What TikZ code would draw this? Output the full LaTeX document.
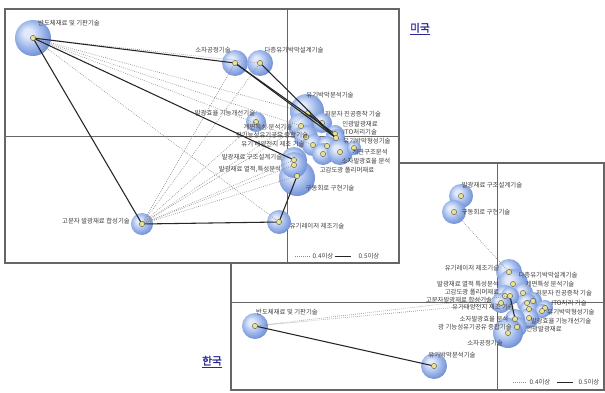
\documentclass[tikz,border=0pt]{standalone}
\usepackage{fontspec}
\newfontfamily\kr{Noto Sans CJK KR}
\newfontfamily\krbold[FakeBold=1.5]{Noto Sans CJK KR}
\definecolor{bubl}{RGB}{225,233,250}
\definecolor{bubc}{RGB}{160,185,235}
\definecolor{bube}{RGB}{115,145,215}
\definecolor{dotc}{RGB}{236,228,140}
\definecolor{navy}{RGB}{40,40,150}
\pgfdeclareradialshading{bubble}{\pgfpoint{-8bp}{8bp}}{color(0bp)=(bubl); color(6bp)=(bubl); color(18bp)=(bubc); color(28bp)=(bube); color(50bp)=(bube)}
\begin{document}
\begin{tikzpicture}[x=0.75pt, y=-0.75pt,
	bub/.style={circle, shading=bubble, inner sep=0pt, minimum size=#1*0.75pt},
	dot/.style={circle, fill=dotc, draw=black!70, line width=0.3pt, inner sep=0pt, minimum size=3.9pt},
	lab/.style={font=\kr\fontsize{4.8}{5}\selectfont, text=black!75, inner sep=0pt},
	ttl/.style={font=\krbold\fontsize{8}{9}\selectfont, text=navy, inner sep=0pt},
	strong/.style={black!85, line width=0.8pt},
	weak/.style={black!45, densely dotted, line width=0.5pt},
	panel/.style={draw=black!60, line width=0.9pt, fill=white},
	axis/.style={black!60, line width=0.5pt}]

\useasboundingbox (0,0) rectangle (605,392);

%% ---- 한국 (lower panel) ----
\draw[panel]	(231,163)	rectangle	(604,390);
\draw[axis]	(497,163)	--	(497,390);
\draw[axis]	(231,302)	--	(604,302);

\node 	(b-ksemi)	at	(255,326) 	[bub=26]{};
\node 	(b-kanal)	at	(434,366) 	[bub=26]{};
\node 	(b-kdesign)	at	(461,196) 	[bub=24]{};
\node 	(b-kdrive)	at	(454,212) 	[bub=24]{};
\node 	(b-klaser)	at	(509,272) 	[bub=26]{};
\node 	(b-kmulti)	at	(513,284) 	[bub=30]{};
\node 	(b-kintf)	at	(523,293) 	[bub=20]{};
\node 	(b-kvac)	at	(533,301) 	[bub=18]{};
\node 	(b-ksolar)	at	(527,303) 	[bub=20]{};
\node 	(b-kphos)	at	(529,309) 	[bub=18]{};
\node 	(b-kito)	at	(545,308) 	[bub=16]{};
\node 	(b-kform)	at	(542,311) 	[bub=14]{};
\node 	(b-kimp)	at	(529,318) 	[bub=20]{};
\node 	(b-kthermal)	at	(505,296) 	[bub=22]{};
\node 	(b-kpoly)	at	(510,296) 	[bub=18]{};
\node 	(b-kpolym)	at	(501,303) 	[bub=20]{};
\node 	(b-keff)	at	(515,319) 	[bub=20]{};
\node 	(b-kfunc)	at	(517,327) 	[bub=20]{};
\node 	(b-kdev)	at	(508,333) 	[bub=30]{};

\node 	(ksemi)		at	(b-ksemi) 	[dot]{};
\node 	(kanal)		at	(b-kanal) 	[dot]{};
\node 	(kdesign)	at	(b-kdesign) 	[dot]{};
\node 	(kdrive)	at	(b-kdrive) 	[dot]{};
\node 	(klaser)	at	(b-klaser) 	[dot]{};
\node 	(kmulti)	at	(b-kmulti) 	[dot]{};
\node 	(kintf)		at	(b-kintf) 	[dot]{};
\node 	(kvac)		at	(b-kvac) 	[dot]{};
\node 	(ksolar)	at	(b-ksolar) 	[dot]{};
\node 	(kphos)		at	(b-kphos) 	[dot]{};
\node 	(kito)		at	(b-kito) 	[dot]{};
\node 	(kform)		at	(b-kform) 	[dot]{};
\node 	(kimp)		at	(b-kimp) 	[dot]{};
\node 	(kthermal)	at	(b-kthermal) 	[dot]{};
\node 	(kpoly)		at	(b-kpoly) 	[dot]{};
\node 	(kpolym)	at	(b-kpolym) 	[dot]{};
\node 	(keff)		at	(b-keff) 	[dot]{};
\node 	(kfunc)		at	(b-kfunc) 	[dot]{};
\node 	(kdev)		at	(b-kdev) 	[dot]{};

\node 	(l-ksemi)	at	(287,312) 	[lab]{반도체재료 및 기판기술};
\node 	(l-kanal)	at	(452,355) 	[lab]{유기박막분석기술};
\node 	(l-kdev)	at	(485,343) 	[lab]{소자공정기술};
\node 	(l-kdesign)	at	(492,185) 	[lab]{발광재료 구조설계기술};
\node 	(l-kdrive)	at	(486,212) 	[lab]{구동회로 구현기술};
\node 	(l-klaser)	at	(472,268) 	[lab]{유기레이저 제조기술};
\node 	(l-kmulti)	at	(548,275) 	[lab]{다층유기박막설계기술};
\node 	(l-kintf)	at	(550,284) 	[lab]{계면특성 분석기술};
\node 	(l-kthermal)	at	(468,284) 	[lab]{발광재료 열적 특성분석};
\node 	(l-kpoly)	at	(472,292) 	[lab]{고감도광 폴리머재료};
\node 	(l-kvac)	at	(564,293) 	[lab]{저분자 진공증착 기술};
\node 	(l-kpolym)	at	(459,300) 	[lab]{고분자발광재료 합성기술};
\node 	(l-ksolar)	at	(483,307) 	[lab]{유기태양전지 제조 기술};
\node 	(l-kito)	at	(569,303) 	[lab]{ITO처리 기술};
\node 	(l-kform)	at	(571,312) 	[lab]{유기박막형성기술};
\node 	(l-keff)	at	(484,319) 	[lab]{소자발광효율 분석};
\node 	(l-kimp)	at	(561,321) 	[lab]{발광효율 기능개선기술};
\node 	(l-kfunc)	at	(475,327) 	[lab]{광 기능성유기공유 중합기술};
\node 	(l-kphos)	at	(544,329) 	[lab]{인광발광재료};

\draw[strong]	(ksemi)	--	(kanal);
\draw[strong]	(kpoly)	--	(keff);
\draw[weak]	(ksemi)	--	(kpolym);
\draw[weak]	(ksemi)	--	(kpoly);
\draw[weak]	(kdrive)	--	(klaser);

\coordinate	(kd1)	at	(513,382);
\coordinate	(kd2)	at	(526,382);
\coordinate	(ks1)	at	(557,382);
\coordinate	(ks2)	at	(573,382);
\draw[weak]	(kd1)	--	(kd2);
\draw[strong, line width=0.6pt]	(ks1)	--	(ks2);
\node 	(l-kd)	at	(540,382) 	[lab]{0.4이상};
\node 	(l-ks)	at	(589,382) 	[lab]{0.5이상};

\node 	(kr)	at	(212,362) 	[ttl]{\underline{한국}};

%% ---- 미국 (upper panel) ----
\draw[panel]	(5,9)	rectangle	(399,263);
\draw[axis]	(287,9)	--	(287,263);
\draw[axis]	(5,136)	--	(399,136);

\node 	(b-usemi)	at	(33,38) 	[bub=36]{};
\node 	(b-udev)	at	(235,63) 	[bub=26]{};
\node 	(b-umulti)	at	(260,63) 	[bub=26]{};
\node 	(b-uimp)	at	(256,122) 	[bub=20]{};
\node 	(b-uanal)	at	(307,111) 	[bub=34]{};
\node 	(b-uvac)	at	(322,123) 	[bub=20]{};
\node 	(b-uintf)	at	(301,126) 	[bub=26]{};
\node 	(b-ufunc)	at	(306,137) 	[bub=24]{};
\node 	(b-usolar)	at	(313,145) 	[bub=22]{};
\node 	(b-uphos)	at	(335,134) 	[bub=18]{};
\node 	(b-uito)	at	(336,138) 	[bub=18]{};
\node 	(b-uform)	at	(327,146) 	[bub=20]{};
\node 	(b-upoly)	at	(323,154) 	[bub=22]{};
\node 	(b-ueff)	at	(340,152) 	[bub=26]{};
\node 	(b-ustruct)	at	(354,148) 	[bub=14]{};
\node 	(b-udrive)	at	(297,178) 	[bub=36]{};
\node 	(b-udesign)	at	(294,160) 	[bub=26]{};
\node 	(b-uthermal)	at	(294,165) 	[bub=26]{};
\node 	(b-ulaser)	at	(279,222) 	[bub=24]{};
\node 	(b-upolym)	at	(142,224) 	[bub=22]{};

\node 	(usemi)		at	(b-usemi) 	[dot]{};
\node 	(udev)		at	(b-udev) 	[dot]{};
\node 	(umulti)	at	(b-umulti) 	[dot]{};
\node 	(uimp)		at	(b-uimp) 	[dot]{};
\node 	(uanal)		at	(308,113) 	[dot]{};
\node 	(uvac)		at	(b-uvac) 	[dot]{};
\node 	(uintf)		at	(b-uintf) 	[dot]{};
\node 	(ufunc)		at	(b-ufunc) 	[dot]{};
\node 	(usolar)	at	(b-usolar) 	[dot]{};
\node 	(uphos)		at	(b-uphos) 	[dot]{};
\node 	(uito)		at	(b-uito) 	[dot]{};
\node 	(uform)		at	(b-uform) 	[dot]{};
\node 	(upoly)		at	(b-upoly) 	[dot]{};
\node 	(ueff)		at	(b-ueff) 	[dot]{};
\node 	(ustruct)	at	(b-ustruct) 	[dot]{};
\node 	(udrive)	at	(297,176) 	[dot]{};
\node 	(udesign)	at	(b-udesign) 	[dot]{};
\node 	(uthermal)	at	(b-uthermal) 	[dot]{};
\node 	(ulaser)	at	(b-ulaser) 	[dot]{};
\node 	(upolym)	at	(b-upolym) 	[dot]{};

\node 	(l-usemi)	at	(69,23) 	[lab]{반도체재료 및 기판기술};
\node 	(l-udev)	at	(213,50) 	[lab]{소자공정기술};
\node 	(l-umulti)	at	(294,50) 	[lab]{다층유기박막설계기술};
\node 	(l-uimp)	at	(225,113) 	[lab]{발광효율 기능개선기술};
\node 	(l-uanal)	at	(330,95) 	[lab]{유기박막분석기술};
\node 	(l-uvac)	at	(353,114) 	[lab]{저분자 진공증착 기술};
\node 	(l-uintf)	at	(268,127) 	[lab]{계면특성 분석기술};
\node 	(l-ufunc)	at	(272,135) 	[lab]{광기능성유기공유 중합기술};
\node 	(l-usolar)	at	(273,144) 	[lab]{유기 태양전지 제조 기술};
\node 	(l-uphos)	at	(360,124) 	[lab]{인광발광재료};
\node 	(l-uito)	at	(360,132) 	[lab]{ITO처리기술};
\node 	(l-uform)	at	(367,141) 	[lab]{유기박막형성기술};
\node 	(l-ustruct)	at	(370,152) 	[lab]{계면구조분석};
\node 	(l-ueff)	at	(366,161) 	[lab]{소자발광효율 분석};
\node 	(l-upoly)	at	(347,170) 	[lab]{고감도광 폴리머재료};
\node 	(l-udesign)	at	(252,157) 	[lab]{발광재료 구조설계기술};
\node 	(l-uthermal)	at	(250,169) 	[lab]{발광재료 열적,특성분석};
\node 	(l-udrive)	at	(330,188) 	[lab]{구동회로 구현기술};
\node 	(l-ulaser)	at	(317,226) 	[lab]{유기레이저 제조기술};
\node 	(l-upolym)	at	(96,221) 	[lab]{고분자 발광재료 합성기술};

\draw[weak]	(usemi)	--	(umulti);
\draw[weak]	(usemi)	--	(uanal);
\draw[weak]	(usemi)	--	(uintf);
\draw[weak]	(usemi)	--	(usolar);
\draw[weak]	(usemi)	--	(ulaser);
\draw[weak]	(upolym)	--	(udev);
\draw[weak]	(upolym)	--	(umulti);
\draw[weak]	(upolym)	--	(uimp);
\draw[weak]	(upolym)	--	(uanal);
\draw[weak]	(upolym)	--	(uintf);
\draw[weak]	(upolym)	--	(udesign);
\draw[weak]	(upolym)	--	(uthermal);
\draw[weak]	(upolym)	--	(udrive);

\draw[strong]	(usemi)	--	(udev);
\draw[strong]	(usemi)	--	(udesign);
\draw[strong]	(usemi)	--	(upolym);
\draw[strong]	(udev)	--	(uphos);
\draw[strong]	(udev)	--	(uito);
\draw[strong]	(umulti)	--	(uito);
\draw[strong]	(uanal)	--	(uito);
\draw[strong]	(upolym)	--	(ulaser);
\draw[strong]	(udrive)	--	(ulaser);

\coordinate	(ud1)	at	(295,256);
\coordinate	(ud2)	at	(311,256);
\coordinate	(us1)	at	(335,256);
\coordinate	(us2)	at	(351,256);
\draw[weak]	(ud1)	--	(ud2);
\draw[strong, line width=0.6pt]	(us1)	--	(us2);
\node 	(l-ud)	at	(323,256) 	[lab]{0.4이상};
\node 	(l-us)	at	(369,256) 	[lab]{0.5이상};

\node 	(us)	at	(420,29) 	[ttl]{\underline{미국}};

\end{tikzpicture}
\end{document}
